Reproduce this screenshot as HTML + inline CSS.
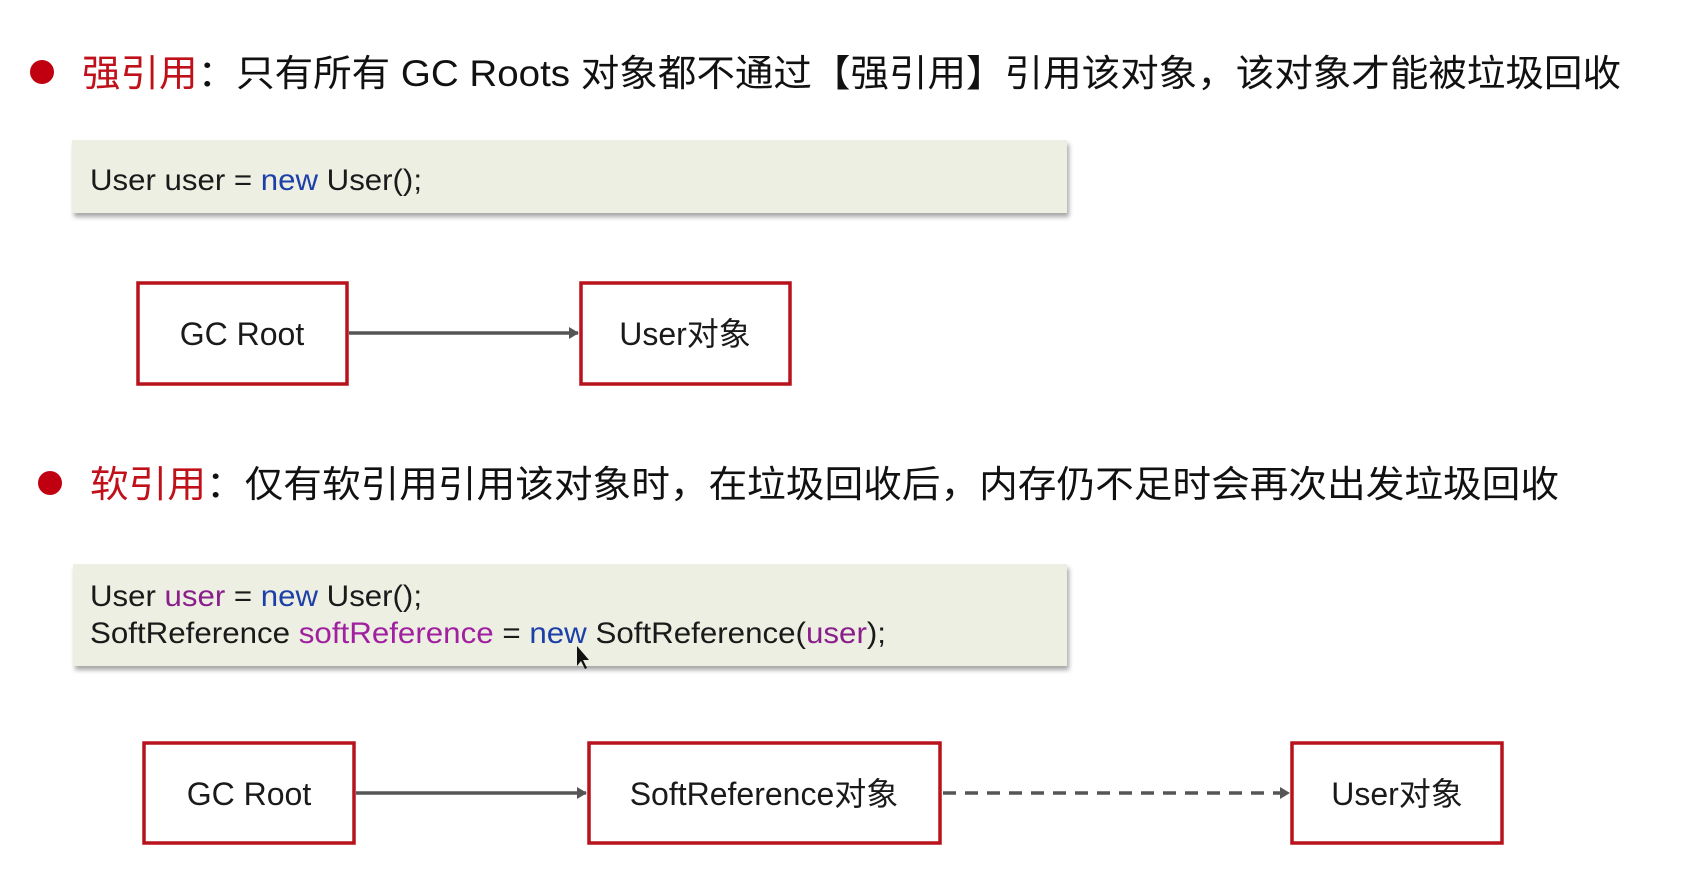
<!DOCTYPE html>
<html><head><meta charset="utf-8"><style>
html,body{margin:0;padding:0;background:#fff;}
svg{display:block;}
</style></head><body>
<svg width="1699" height="888" viewBox="0 0 1699 888" xmlns="http://www.w3.org/2000/svg">
<defs>
<filter id="sh" x="-5%" y="-20%" width="110%" height="150%">
<feDropShadow dx="2" dy="4" stdDeviation="2.5" flood-color="#000" flood-opacity="0.35"/>
</filter>
<marker id="ah" markerWidth="12" markerHeight="12" refX="9" refY="6" orient="auto" markerUnits="userSpaceOnUse">
<path d="M0,0 L10,6 L0,12 Z" fill="#555"/>
</marker>
</defs>
<g font-family="'Liberation Sans','Noto Sans CJK SC',sans-serif">
<circle cx="42" cy="72" r="12" fill="#c00010"/>
<text x="82" y="86" font-size="37" textLength="1539" lengthAdjust="spacingAndGlyphs" fill="#111"><tspan fill="#c0101a">强引用</tspan>：只有所有 GC Roots 对象都不通过【强引用】引用该对象，该对象才能被垃圾回收</text>

<rect x="72" y="140" width="995" height="73" fill="#ecefe2" filter="url(#sh)"/>
<text x="90" y="190" font-size="30" textLength="332" lengthAdjust="spacingAndGlyphs" fill="#1a1a1a">User user = <tspan fill="#1d3fa8">new</tspan> User();</text>

<rect x="138" y="283" width="209" height="101" fill="#fff" stroke="#b8121c" stroke-width="3.5"/>
<text x="242" y="345" font-size="32" text-anchor="middle" fill="#1a1a1a">GC Root</text>
<rect x="581" y="283" width="209" height="101" fill="#fff" stroke="#b8121c" stroke-width="3.5"/>
<text x="685" y="345" font-size="32" text-anchor="middle" fill="#1a1a1a">User对象</text>
<line x1="349" y1="333" x2="578" y2="333" stroke="#555" stroke-width="3.5" marker-end="url(#ah)"/>

<circle cx="50" cy="483" r="12" fill="#c00010"/>
<text x="90" y="497" font-size="37" textLength="1469" lengthAdjust="spacingAndGlyphs" fill="#111"><tspan fill="#c0101a">软引用</tspan>：仅有软引用引用该对象时，在垃圾回收后，内存仍不足时会再次出发垃圾回收</text>

<rect x="73" y="564" width="994" height="102" fill="#ecefe2" filter="url(#sh)"/>
<text x="90" y="606" font-size="30" textLength="332" lengthAdjust="spacingAndGlyphs" fill="#1a1a1a">User <tspan fill="#8a1f8c">user</tspan> = <tspan fill="#1d3fa8">new</tspan> User();</text>
<text x="90" y="643" font-size="30" textLength="796" lengthAdjust="spacingAndGlyphs" fill="#1a1a1a">SoftReference <tspan fill="#a020a0">softReference</tspan> = <tspan fill="#1d3fa8">new</tspan> SoftReference(<tspan fill="#8a1f8c">user</tspan>);</text>
<path d="M577,646 L577,666 L581,661 L585,669 L587,668 L583,660 L589,660 Z" fill="#111"/>

<rect x="144" y="743" width="210" height="100" fill="#fff" stroke="#b8121c" stroke-width="3.5"/>
<text x="249" y="805" font-size="32" text-anchor="middle" fill="#1a1a1a">GC Root</text>
<rect x="589" y="743" width="351" height="100" fill="#fff" stroke="#b8121c" stroke-width="3.5"/>
<text x="764" y="805" font-size="32" text-anchor="middle" fill="#1a1a1a">SoftReference对象</text>
<rect x="1292" y="743" width="210" height="100" fill="#fff" stroke="#b8121c" stroke-width="3.5"/>
<text x="1397" y="805" font-size="32" text-anchor="middle" fill="#1a1a1a">User对象</text>
<line x1="356" y1="793" x2="586" y2="793" stroke="#555" stroke-width="3.5" marker-end="url(#ah)"/>
<line x1="943" y1="793" x2="1289" y2="793" stroke="#555" stroke-width="3.5" stroke-dasharray="13,9" marker-end="url(#ah)"/>
</g>
</svg>
</body></html>
